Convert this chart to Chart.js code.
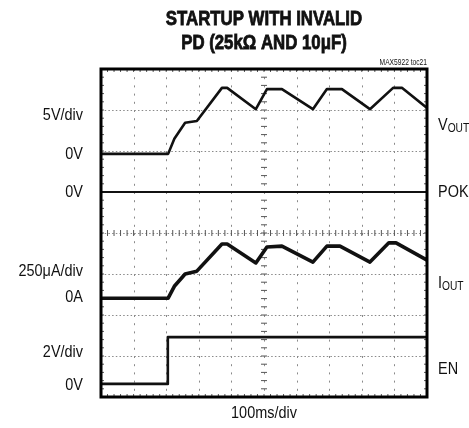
<!DOCTYPE html>
<html>
<head>
<meta charset="utf-8">
<script src="https://cdn.jsdelivr.net/npm/chart.js@4.4.1/dist/chart.umd.min.js"></script>
<style>
  html, body { margin: 0; padding: 0; background: #fff; }
  canvas { display: block; }
</style>
</head>
<body>
<canvas id="scope" width="469" height="428"></canvas>
<script>
// time in ms (100ms/div), levels in screen divisions (0 = bottom, 8 = top)
const voutTime = [0, 206, 225, 258, 294, 371, 387, 475, 509, 555, 650, 693, 739, 825, 896, 923, 1000];
const voutDiv  = [5.93, 5.93, 6.3, 6.69, 6.73, 7.54, 7.54, 7.02, 7.51, 7.51, 7.02, 7.51, 7.51, 7.02, 7.54, 7.54, 7.05];

const pokTime = [0, 1000];
const pokDiv  = [5.0, 5.0];

const ioutTime = [0, 206, 225, 258, 294, 371, 387, 475, 509, 555, 650, 693, 733, 825, 883, 905, 1000];
const ioutDiv  = [2.41, 2.41, 2.7, 3.0, 3.07, 3.73, 3.73, 3.27, 3.66, 3.68, 3.29, 3.68, 3.68, 3.29, 3.76, 3.76, 3.34];

const enTime = [0, 205, 205, 1000];
const enDiv  = [0.32, 0.32, 1.46, 1.46];

const titleLines = ['STARTUP WITH INVALID', 'PD (25k\u03A9 AND 10\u03BCF)'];
const leftLabels = ['5V/div', '0V', '0V', '250\u03BCA/div', '0A', '2V/div', '0V'];
const leftLabelDiv = [6.88, 5.93, 5.0, 3.07, 2.44, 1.1, 0.29];
const rightLabels = [['V', 'OUT'], ['POK', ''], ['I', 'OUT'], ['EN', '']];
const rightLabelDiv = [6.63, 5.0, 2.78, 0.68];

const sans = '"Liberation Sans", Arial, sans-serif';
const ink = '#111';

function pts(xs, ys) {
    return xs.map((x, i) => ({ x: x, y: ys[i] }));
}

// Liberation Sans squeezed sideways, standing in for Helvetica Narrow
function narrowText(ctx, text, x, y, font, sx, heavy) {
    ctx.save();
    ctx.font = font;
    ctx.translate(x, y);
    ctx.scale(sx, 1);
    ctx.fillText(text, 0, 0);
    if (heavy) {
        ctx.lineWidth = heavy;
        ctx.strokeStyle = ctx.fillStyle;
        ctx.strokeText(text, 0, 0);
    }
    const w = ctx.measureText(text).width * sx;
    ctx.restore();
    return w;
}

const scopeDecor = {
    id: 'scopeDecor',
    beforeDatasetsDraw(chart) {
        const ctx = chart.ctx;
        const xs = chart.scales.x;
        const ys = chart.scales.y;
        const a = chart.chartArea;
        ctx.save();
        ctx.strokeStyle = '#8a8a8a';
        ctx.lineWidth = 1;
        // dotted grid
        ctx.setLineDash([1.5, 2.2]);
        for (let d = 1; d < 8; d++) {
            const y = Math.round(ys.getPixelForValue(d)) + 0.5;
            ctx.beginPath(); ctx.moveTo(a.left, y); ctx.lineTo(a.right, y); ctx.stroke();
        }
        ctx.setLineDash([2, 6.2]);
        for (let d = 1; d < 10; d++) {
            const x = Math.round(xs.getPixelForValue(d * 100)) + 0.5;
            ctx.beginPath(); ctx.moveTo(x, a.top); ctx.lineTo(x, a.bottom); ctx.stroke();
        }
        ctx.setLineDash([]);
        // minor ticks on the center cross and on the frame
        ctx.strokeStyle = '#555';
        const cx = xs.getPixelForValue(500);
        const cy = ys.getPixelForValue(4);
        for (let t = 0; t <= 1000; t += 20) {
            const x = xs.getPixelForValue(t);
            ctx.beginPath(); ctx.moveTo(x, cy - 3); ctx.lineTo(x, cy + 3); ctx.stroke();
            ctx.beginPath(); ctx.moveTo(x, a.top); ctx.lineTo(x, a.top + 3); ctx.stroke();
            ctx.beginPath(); ctx.moveTo(x, a.bottom); ctx.lineTo(x, a.bottom - 3); ctx.stroke();
        }
        for (let d = 0; d <= 8; d += 0.2) {
            const y = ys.getPixelForValue(d);
            ctx.beginPath(); ctx.moveTo(cx - 3, y); ctx.lineTo(cx + 3, y); ctx.stroke();
            ctx.beginPath(); ctx.moveTo(a.left, y); ctx.lineTo(a.left + 3, y); ctx.stroke();
            ctx.beginPath(); ctx.moveTo(a.right, y); ctx.lineTo(a.right - 3, y); ctx.stroke();
        }
        ctx.restore();
    },
    afterDraw(chart) {
        const ctx = chart.ctx;
        const ys = chart.scales.y;
        const a = chart.chartArea;
        const mid = (a.left + a.right) / 2;
        ctx.save();
        // frame
        ctx.strokeStyle = '#000';
        ctx.lineWidth = 3;
        ctx.strokeRect(a.left, a.top, a.right - a.left, a.bottom - a.top);

        ctx.fillStyle = ink;
        ctx.textBaseline = 'middle';
        // title
        ctx.textAlign = 'center';
        narrowText(ctx, titleLines[0], mid, 19, 'bold 20px ' + sans, 0.84, 0.8);
        narrowText(ctx, titleLines[1], mid, 43, 'bold 20px ' + sans, 0.84, 0.8);
        // figure tag
        ctx.textAlign = 'right';
        narrowText(ctx, 'MAX5922 toc21', a.right, 63, '9px ' + sans, 0.74);
        // left labels
        leftLabels.forEach((t, i) => {
            narrowText(ctx, t, 83, ys.getPixelForValue(leftLabelDiv[i]), '17px ' + sans, 0.85);
        });
        // right labels
        ctx.textAlign = 'left';
        rightLabels.forEach((t, i) => {
            const y = ys.getPixelForValue(rightLabelDiv[i]);
            const w = narrowText(ctx, t[0], 438, y, '17px ' + sans, 0.85);
            if (t[1]) {
                narrowText(ctx, t[1], 438 + w, y + 4, '12px ' + sans, 0.85);
            }
        });
        // time base
        ctx.textAlign = 'center';
        narrowText(ctx, '100ms/div', mid, 413, '17px ' + sans, 0.85);
        ctx.restore();
    }
};

const traceStyle = (w) => ({
    borderColor: ink,
    borderWidth: w,
    pointRadius: 0,
    tension: 0,
    fill: false,
    showLine: true,
    borderJoinStyle: 'round',
    borderCapStyle: 'round'
});

const chart = new Chart(document.getElementById('scope'), {
    type: 'scatter',
    data: {
        datasets: [
            { label: 'VOUT', data: pts(voutTime, voutDiv), ...traceStyle(2.6) },
            { label: 'POK', data: pts(pokTime, pokDiv), ...traceStyle(2.2) },
            { label: 'IOUT', data: pts(ioutTime, ioutDiv), ...traceStyle(3.6) },
            { label: 'EN', data: pts(enTime, enDiv), ...traceStyle(2.6) }
        ]
    },
    options: {
        responsive: false,
        animation: false,
        layout: { padding: { left: 101, right: 42, top: 69, bottom: 31 } },
        plugins: {
            legend: { display: false },
            title: { display: false },
            tooltip: { enabled: false }
        },
        scales: {
            x: {
                type: 'linear', min: 0, max: 1000,
                ticks: { display: false },
                grid: { display: false, drawTicks: false },
                border: { display: false }
            },
            y: {
                type: 'linear', min: 0, max: 8,
                ticks: { display: false },
                grid: { display: false, drawTicks: false },
                border: { display: false }
            }
        }
    },
    plugins: [scopeDecor]
});
</script>
</body>
</html>
